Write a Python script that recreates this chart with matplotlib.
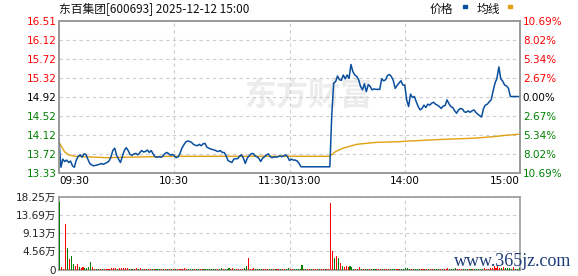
import numpy as np
import matplotlib.pyplot as plt
from matplotlib.patches import Rectangle

plt.rcParams['font.family'] = ['DejaVu Sans', 'Noto Sans CJK SC']

# ---- data ----
title = "东百集团[600693] 2025-12-12 15:00"
prev_close = 14.92

price_ticks = [13.33, 13.72, 14.12, 14.52, 14.92, 15.32, 15.72, 16.12, 16.51]
pct_labels = ["10.69%", "8.02%", "5.34%", "2.67%", "0.00%",
              "2.67%", "5.34%", "8.02%", "10.69%"]

time_ticks = [0, 60, 120, 180, 240]
time_labels = ["09:30", "10:30", "11:30/13:00", "14:00", "15:00"]

vol_ticks = [0, 4.56, 9.13, 13.69, 18.25]
vol_labels = ["0", "4.56万", "9.13万", "13.69万", "18.25万"]

# price, one value per minute (0 = 09:30, 120 = 11:30/13:00, 240 = 15:00)
price = [
    14.02, 13.45, 13.62, 13.57, 13.60, 13.55, 13.58, 13.48, 13.45, 13.60,
    13.68, 13.71, 13.66, 13.73, 13.72, 13.62, 13.53, 13.50, 13.48, 13.49,
    13.50, 13.51, 13.53, 13.51, 13.53, 13.55, 13.58, 13.66, 13.80, 13.85,
    13.70, 13.62, 13.55, 13.68, 13.80, 13.86, 13.80, 13.72, 13.70, 13.73,
    13.74, 13.71, 13.75, 13.80, 13.77, 13.78, 13.81, 13.76, 13.80, 13.73,
    13.67, 13.66, 13.67, 13.66, 13.68, 13.73, 13.76, 13.74, 13.70, 13.72,
    13.69, 13.65, 13.67, 13.74, 13.85, 13.92, 13.98, 14.00, 13.99, 13.97,
    13.93, 13.91, 13.90, 13.93, 13.90, 13.94, 13.95, 13.87, 13.85, 13.83,
    13.82, 13.81, 13.79, 13.78, 13.80, 13.76, 13.76, 13.69, 13.59, 13.57,
    13.55, 13.62, 13.63, 13.63, 13.68, 13.71, 13.64, 13.53, 13.64, 13.69,
    13.73, 13.74, 13.69, 13.67, 13.64, 13.57, 13.64, 13.67, 13.71, 13.73,
    13.67, 13.65, 13.67, 13.66, 13.67, 13.69, 13.67, 13.69, 13.71, 13.67,
    13.59, 13.62, 13.60, 13.60, 13.58, 13.53, 13.46, 13.46, 13.46, 13.46,
    13.46, 13.46, 13.46, 13.46, 13.46, 13.46, 13.46, 13.46, 13.46, 13.46,
    13.46, 13.46, 14.54, 15.21, 15.24, 15.36, 15.28, 15.27, 15.38, 15.30,
    15.38, 15.31, 15.60, 15.45, 15.38, 15.35, 15.28, 15.14, 15.07, 15.20,
    15.03, 15.18, 15.14, 15.07, 15.09, 15.08, 15.08, 15.08, 15.30, 15.26,
    15.28, 15.37, 15.39, 15.35, 15.27, 15.10, 15.16, 15.21, 15.26, 15.17,
    15.17, 14.86, 14.72, 14.98, 14.91, 14.93, 14.82, 14.72, 14.65, 14.68,
    14.75, 14.70, 14.77, 14.75, 14.79, 14.81, 14.77, 14.75, 14.72, 14.68,
    14.73, 14.74, 14.86, 14.78, 14.72, 14.70, 14.63, 14.58, 14.65, 14.68,
    14.67, 14.61, 14.60, 14.63, 14.60, 14.63, 14.65, 14.60, 14.56, 14.53,
    14.50, 14.68, 14.75, 14.77, 14.82, 14.86, 15.05, 15.21, 15.31, 15.55,
    15.30, 15.25, 15.17, 15.15, 15.10, 14.93, 14.93, 14.93, 14.93, 14.93,
    14.92,
]

# average price line
avg_min = [0, 1, 3, 5, 8, 25, 35, 60, 120, 141, 144, 148, 155, 165,
           177, 183, 198, 217, 226, 233, 239, 240]
avg_val = [13.99, 13.90, 13.77, 13.71, 13.68, 13.65, 13.66, 13.68, 13.68,
           13.68, 13.78, 13.85, 13.93, 13.97, 13.985, 14.00, 14.03, 14.06,
           14.09, 14.12, 14.14, 14.15]

# volume per minute, in 万
vol = [
    16.9, 0.66, 0.2, 11.5, 5.4, 2.7, 3.4, 1.35, 1.0, 1.35,
    0.66, 0.3, 0.66, 0.3, 0.3, 0.66, 1.85, 0.66, 0.2, 0.2,
    0.2, 0.2, 0.2, 0.2, 0.2, 0.2, 0.25, 0.3, 0.45, 0.5,
    0.15, 0.3, 0.5, 0.5, 0.5, 0.5, 0.15, 0.2, 0.15, 0.15,
    0.3, 0.15, 0.3, 0.15, 0.2, 0.15, 0.15, 0.2, 0.15, 0.15,
    0.2, 0.15, 0.15, 0.2, 0.15, 0.15, 0.2, 0.15, 0.2, 0.15,
    0.15, 0.2, 0.15, 0.2, 0.15, 0.3, 0.2, 0.15, 0.2, 0.15,
    0.15, 0.2, 0.15, 0.15, 0.2, 0.15, 0.15, 0.2, 0.15, 0.15,
    0.15, 0.2, 0.15, 0.2, 0.5, 0.15, 0.2, 0.15, 0.5, 0.2,
    0.3, 0.15, 0.2, 0.15, 0.15, 0.2, 0.4, 0.8, 3.0, 0.2,
    0.15, 0.3, 0.15, 0.2, 0.15, 0.15, 0.2, 0.15, 0.15, 0.2,
    0.15, 0.15, 0.2, 0.15, 0.15, 0.2, 0.15, 0.15, 0.2, 0.5,
    0.2, 0.15, 0.15, 0.15, 0.2, 0.2, 1.1, 0.15, 0.2, 0.15,
    0.15, 0.2, 0.15, 0.15, 0.2, 0.15, 0.15, 0.2, 0.15, 0.2,
    0.2, 16.7, 4.6, 2.9, 3.5, 2.9, 1.7, 1.0, 0.75, 0.9,
    0.75, 0.9, 0.6, 0.2, 0.15, 0.2, 0.6, 0.15, 0.2, 0.15,
    0.15, 0.2, 0.15, 0.15, 0.2, 0.15, 0.15, 0.2, 0.15, 0.15,
    0.2, 0.15, 0.15, 0.2, 0.15, 0.2, 0.15, 0.15, 0.2, 0.15,
    0.3, 0.3, 0.15, 0.2, 0.15, 0.15, 0.2, 0.15, 0.15, 0.25,
    0.15, 0.2, 0.15, 0.15, 0.2, 0.15, 0.15, 0.2, 0.15, 0.15,
    0.15, 0.2, 0.3, 0.15, 0.2, 0.15, 0.3, 0.15, 0.2, 0.15,
    0.15, 0.2, 0.15, 0.15, 0.2, 0.15, 0.15, 0.2, 0.15, 0.2,
    0.2, 0.3, 0.2, 0.2, 0.3, 0.4, 0.85, 0.4, 0.8, 0.5,
    0.3, 0.7, 0.3, 0.5, 0.3, 0.2, 0.7, 0.2, 0.2, 0.3,
]
# r = up minute, g = down minute
vol_dir = ("grrrgrggrrgrrggggrrg" "grgrrrrrrrgrrrrrgggr" "rgrgrgrrgrgggrgrgrgr"
           "grrrrrrgggrggrrggggg" "ggrggrgggrrgrrrrggrr" "rrggggrrrggrgrrgrrgg"
           "rrgggggrgrrgrrrgrrgr" "rrrgrgrgrrrgggrgrgrg" "grgggrrrgrrrgggrrggg"
           "gggrggggrrgrgrrgggrg" "rrrggggrrrgggrgrgggg" "grrrrrrrrrgrggggrggg")

# ---- styles ----
RED = '#ff0000'
GREEN = '#008000'
FRAME = '#9a9a9a'
GRID = '#cccccc'

fig = plt.figure(figsize=(5.78, 2.76), dpi=100)
W, H = 578.0, 276.0
ax = fig.add_axes([59 / W, 1 - 173 / H, 461 / W, 152 / H])
axv = fig.add_axes([59 / W, 1 - 269.5 / H, 461 / W, 73 / H])

# watermark
ax.text(0.54, 0.5, "东方财富", transform=ax.transAxes, ha='center', va='center',
        fontsize=23, fontweight='bold', color='#ececec',
        family=['Noto Sans CJK SC'], zorder=0)

ax.plot(np.arange(len(price)), price, color='#0a4f9e', lw=1.1, zorder=3)
ax.plot(avg_min, avg_val, color='#e0a010', lw=1.0, zorder=2)

ax.set_xlim(0, 240)
ax.set_ylim(price_ticks[0], price_ticks[-1])
ax.set_yticks(price_ticks)
ax.set_yticklabels(["%.2f" % v for v in price_ticks])
ax.set_xticks(time_ticks)
ax.set_xticklabels(time_labels)
ax.tick_params(length=0, labelsize=7.5, pad=2)
for lab, v in zip(ax.get_yticklabels(), price_ticks):
    lab.set_color(RED if v > prev_close else (GREEN if v < prev_close else 'black'))
xl = ax.get_xticklabels()
xl[0].set_ha('left')
xl[-1].set_ha('right')

axr = ax.twinx()
axr.set_ylim(ax.get_ylim())
axr.set_yticks(price_ticks)
axr.set_yticklabels(pct_labels)
axr.tick_params(length=0, labelsize=7.5, pad=2)
for lab, v in zip(axr.get_yticklabels(), price_ticks):
    lab.set_color(RED if v > prev_close else (GREEN if v < prev_close else 'black'))

for a in (ax, axv):
    a.grid(True, color=GRID, ls=(0, (3, 3)), lw=0.8)
    a.set_axisbelow(True)
for a in (ax, axr, axv):
    for s in a.spines.values():
        s.set_color(FRAME)
        s.set_linewidth(1.2)

# volume
colors = [RED if d == 'r' else GREEN for d in vol_dir]
axv.bar(np.arange(len(vol)) + 0.5, vol, width=0.55, color=colors, zorder=3)
axv.set_xlim(0, 240)
axv.set_ylim(0, vol_ticks[-1])
axv.set_xticks(time_ticks)
axv.set_xticklabels([])
axv.set_yticks(vol_ticks)
axv.set_yticklabels(vol_labels)
axv.tick_params(length=0, labelsize=7.5, pad=2, labelcolor='#222222')

# title and legend
fig.text(59 / W, 1 - 9.5 / H, title, ha='left', va='center', fontsize=8.5,
         family=['Noto Sans CJK SC'], color='#111111')
fig.text(430 / W, 1 - 9.5 / H, "价格", ha='left', va='center', fontsize=8.5,
         family=['Noto Sans CJK SC'], color='#111111')
fig.text(477 / W, 1 - 9.5 / H, "均线", ha='left', va='center', fontsize=8.5,
         family=['Noto Sans CJK SC'], color='#111111')
fig.patches.append(Rectangle((462.5 / W, 1 - 8 / H), 4 / W, 2.5 / H,
                             transform=fig.transFigure, color='#0a4f9e'))
fig.patches.append(Rectangle((508 / W, 1 - 8 / H), 4 / W, 2.5 / H,
                             transform=fig.transFigure, color='#e0a010'))

fig.text(513 / W, 1 - 261 / H, "www.365jz.com", ha='center', va='center',
         fontsize=13, family=['Liberation Serif'], color='#1d3c78')

fig.savefig('out.png', dpi=100)
